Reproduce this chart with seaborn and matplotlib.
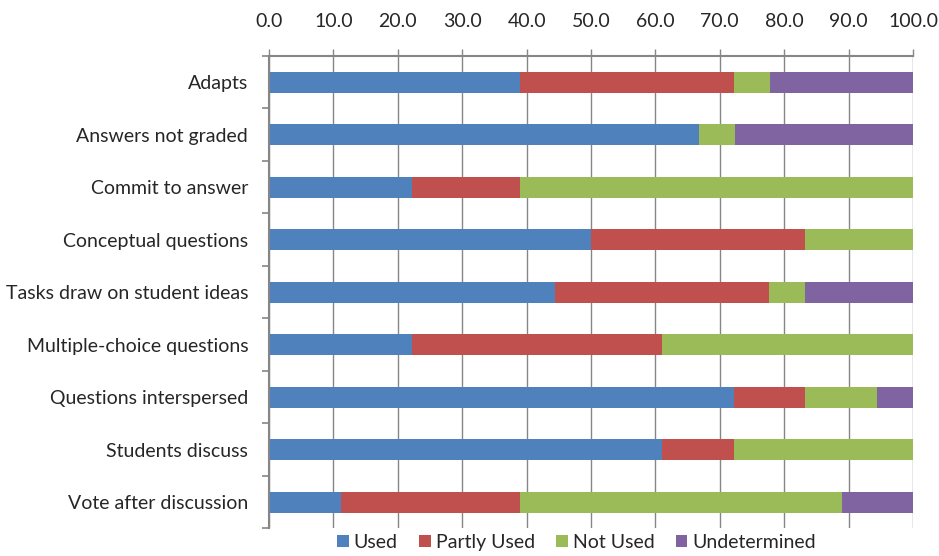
import numpy as np
import pandas as pd
import matplotlib.pyplot as plt
import seaborn as sns
from matplotlib.patches import Patch
from matplotlib.ticker import FormatStrFormatter

# Dados (percentagens)
categories = ['Adapts', 'Answers not graded', 'Commit to answer', 'Conceptual questions',
              'Tasks draw on student ideas', 'Multiple-choice questions',
              'Questions interspersed', 'Students discuss', 'Vote after discussion']
used = [38.9, 66.7, 22.2, 50.0, 44.4, 22.2, 72.2, 61.1, 11.1]
partly_used = [33.3, 0.0, 16.7, 33.3, 33.3, 38.9, 11.1, 11.1, 27.8]
not_used = [5.6, 5.6, 61.1, 16.7, 5.6, 38.9, 11.1, 27.8, 50.0]
undetermined = [22.2, 27.7, 0.0, 0.0, 16.7, 0.0, 5.6, 0.0, 11.1]

series_names = ['Used', 'Partly Used', 'Not Used', 'Undetermined']
colors = ['#4F81BD', '#C0504D', '#9BBB59', '#8064A2']

df = pd.DataFrame({'category': categories, 'Used': used, 'Partly Used': partly_used,
                   'Not Used': not_used, 'Undetermined': undetermined})

sns.set_style('white')
plt.rcParams['font.family'] = ['Lato', 'DejaVu Sans']

fig = plt.figure(figsize=(9.39, 5.56), dpi=100)
ax = fig.add_axes([0.2865, 0.0495, 0.6858, 0.8498])

# Barras empilhadas: desenha os totais cumulativos do maior para o menor
cum = df[series_names].cumsum(axis=1)
for name, color in reversed(list(zip(series_names, colors))):
    sns.barplot(x=cum[name], y=df['category'], color=color, orient='h',
                width=0.4, saturation=1, ax=ax, edgecolor='none', linewidth=0)

ax.set_xlim(0, 100)
ax.set_ylim(8.5, -0.5)
ax.set_xticks(np.arange(0, 101, 10))
ax.xaxis.set_major_formatter(FormatStrFormatter('%.1f'))
ax.xaxis.tick_top()
ax.set_xlabel('')
ax.set_ylabel('')

grid_color = '#868686'
ax.grid(axis='x', color=grid_color, linewidth=1)
ax.set_axisbelow(True)
for s in ['right', 'bottom']:
    ax.spines[s].set_visible(False)
for s in ['top', 'left']:
    ax.spines[s].set_color(grid_color)
    ax.spines[s].set_linewidth(1.5)

ax.tick_params(axis='x', which='major', top=True, length=5, width=1, color=grid_color,
               labelsize=14, pad=14, direction='out')
ax.tick_params(axis='y', which='major', left=False, length=0, labelsize=14, pad=15)
ax.set_yticks(np.arange(-0.5, 9, 1), minor=True)
ax.tick_params(axis='y', which='minor', left=True, length=5, width=1.2, color=grid_color,
               direction='out')

handles = [Patch(facecolor=c, edgecolor='none') for c in colors]
fig.legend(handles, series_names, loc='lower center', ncol=4, frameon=False,
           fontsize=14, bbox_to_anchor=(0.614, -0.022), handlelength=0.6, handleheight=0.6,
           handletextpad=0.25, columnspacing=1.1)

fig.savefig('out.png', dpi=100)
